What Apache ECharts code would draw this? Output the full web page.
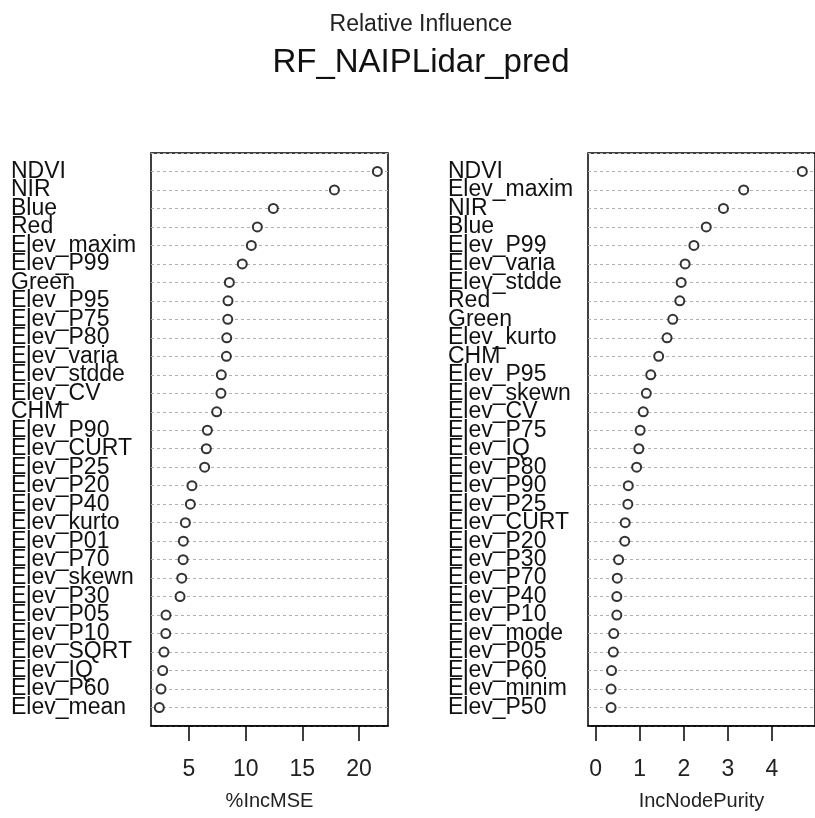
<!DOCTYPE html>
<html>
<head>
<meta charset="utf-8">
<script src="https://cdn.jsdelivr.net/npm/echarts@6/dist/echarts.min.js"></script>
<style>html,body{margin:0;padding:0;background:#fff;}#c{width:815px;height:818px;}</style>
</head>
<body>
<div id="c"></div>
<script>
const namesMSE = ["NDVI","NIR","Blue","Red","Elev_maxim","Elev_P99","Green","Elev_P95","Elev_P75","Elev_P80","Elev_varia","Elev_stdde","Elev_CV","CHM","Elev_P90","Elev_CURT","Elev_P25","Elev_P20","Elev_P40","Elev_kurto","Elev_P01","Elev_P70","Elev_skewn","Elev_P30","Elev_P05","Elev_P10","Elev_SQRT","Elev_IQ","Elev_P60","Elev_mean"];
const valuesMSE = [21.62,17.83,12.44,11.03,10.50,9.70,8.56,8.44,8.42,8.33,8.30,7.85,7.82,7.44,6.62,6.53,6.38,5.26,5.12,4.68,4.50,4.48,4.36,4.21,2.97,2.95,2.79,2.68,2.53,2.38];
const namesNP = ["NDVI","Elev_maxim","NIR","Blue","Elev_P99","Elev_varia","Elev_stdde","Red","Green","Elev_kurto","CHM","Elev_P95","Elev_skewn","Elev_CV","Elev_P75","Elev_IQ","Elev_P80","Elev_P90","Elev_P25","Elev_CURT","Elev_P20","Elev_P30","Elev_P70","Elev_P40","Elev_P10","Elev_mode","Elev_P05","Elev_P60","Elev_minim","Elev_P50"];
const valuesNP = [4.69,3.36,2.90,2.51,2.23,2.03,1.94,1.91,1.75,1.62,1.43,1.25,1.15,1.08,1.01,0.98,0.93,0.74,0.73,0.67,0.66,0.52,0.49,0.48,0.48,0.41,0.40,0.36,0.35,0.35];
const ticksMSE = [5,10,15,20];
const ticksNP = [0,1,2,3,4];

const FONT = '"Liberation Sans", Arial, sans-serif';
const chart = echarts.init(document.getElementById('c'));

function yAxisFor(names, gi){
  return {
    type:'value', gridIndex:gi, inverse:true, min:0, max:names.length+1, interval:1,
    axisLine:{show:false}, axisTick:{show:false},
    splitLine:{show:true, lineStyle:{color:'#b0b0b0', width:1, type:[3,3]}},
    axisLabel:{
      margin:140, align:'left', verticalAlign:'middle',
      fontFamily:FONT, fontSize:23, color:'#111',
      formatter:function(v){ return (v>=1 && v<=names.length) ? names[v-1] : ''; }
    }
  };
}
function xAxisFor(gi, min, max, ticks, name){
  return {
    type:'value', gridIndex:gi, min:min, max:max, position:'bottom',
    name:name, nameLocation:'middle', nameGap:65,
    nameTextStyle:{fontFamily:FONT, fontSize:20, color:'#222'},
    splitLine:{show:false},
    axisLine:{show:true, onZero:false, lineStyle:{color:'#000', width:1.5}},
    axisTick:{show:true, length:15, lineStyle:{color:'#000', width:1.5}, customValues:ticks},
    axisLabel:{margin:32, fontFamily:FONT, fontSize:23, color:'#222', customValues:ticks}
  };
}
function seriesFor(values, gi){
  return {
    type:'scatter', xAxisIndex:gi, yAxisIndex:gi,
    symbol:'emptyCircle', symbolSize:9,
    itemStyle:{color:'#000', borderWidth:1.5},
    data: values.map(function(v,i){ return [v, i+1]; })
  };
}

chart.setOption({
  backgroundColor:'#fff',
  animation:false,
  title:[
    {text:'Relative Influence', left:416, top:8, textAlign:'center',
     textStyle:{fontFamily:FONT, fontSize:23, fontWeight:'normal', color:'#222'}},
    {text:'RF_NAIPLidar_pred', left:416, top:41, textAlign:'center',
     textStyle:{fontFamily:FONT, fontSize:33, fontWeight:'normal', color:'#111'}}
  ],
  grid:[
    {left:151, top:153, width:237, height:573, show:true, borderColor:'#000', borderWidth:1.5, backgroundColor:'transparent'},
    {left:588, top:153, width:237, height:573, show:true, borderColor:'#000', borderWidth:1.5, backgroundColor:'transparent'}
  ],
  xAxis:[
    xAxisFor(0, 1.646, 22.56, ticksMSE, '%IncMSE'),
    xAxisFor(1, -0.174, 4.978, ticksNP, 'IncNodePurity')
  ],
  yAxis:[ yAxisFor(namesMSE,0), yAxisFor(namesNP,1) ],
  series:[ seriesFor(valuesMSE,0), seriesFor(valuesNP,1) ]
});
</script>
</body>
</html>
